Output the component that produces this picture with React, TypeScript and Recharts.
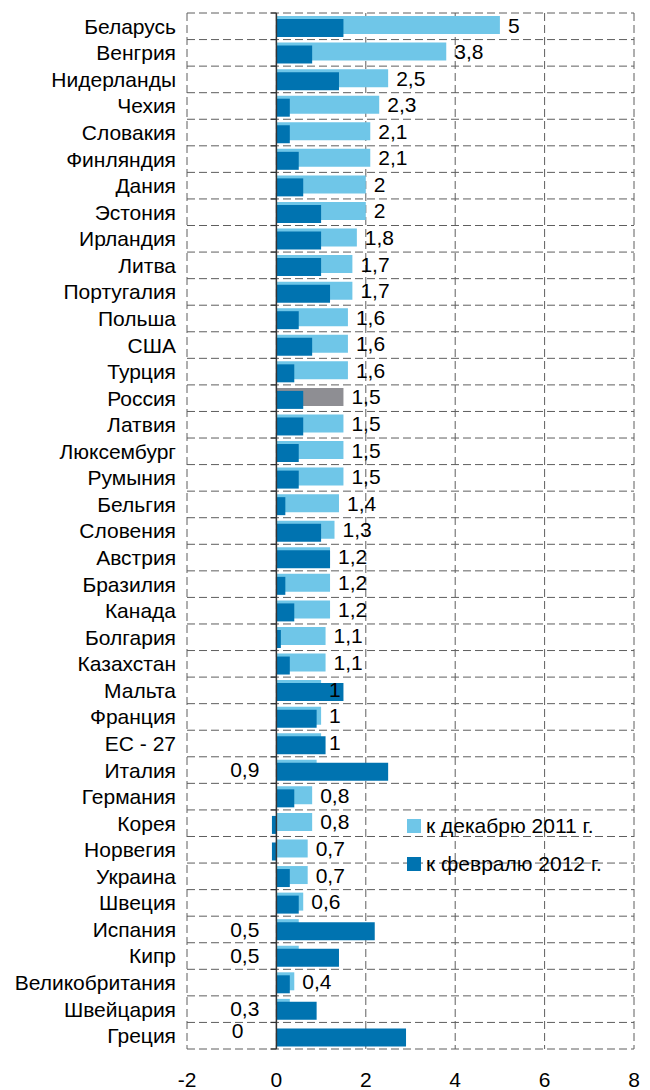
import React from 'react';
import { BarChart, Bar, XAxis, YAxis, CartesianGrid, ReferenceLine, LabelList, Cell } from 'recharts';

const countries = [
  'Беларусь', 'Венгрия', 'Нидерланды', 'Чехия', 'Словакия', 'Финляндия', 'Дания', 'Эстония',
  'Ирландия', 'Литва', 'Португалия', 'Польша', 'США', 'Турция', 'Россия', 'Латвия',
  'Люксембург', 'Румыния', 'Бельгия', 'Словения', 'Австрия', 'Бразилия', 'Канада', 'Болгария',
  'Казахстан', 'Мальта', 'Франция', 'ЕС - 27', 'Италия', 'Германия', 'Корея', 'Норвегия',
  'Украина', 'Швеция', 'Испания', 'Кипр', 'Великобритания', 'Швейцария', 'Греция',
];

// к декабрю 2011 г.
const dec2011 = [
  5, 3.8, 2.5, 2.3, 2.1, 2.1, 2, 2,
  1.8, 1.7, 1.7, 1.6, 1.6, 1.6, 1.5, 1.5,
  1.5, 1.5, 1.4, 1.3, 1.2, 1.2, 1.2, 1.1,
  1.1, 1, 1, 1, 0.9, 0.8, 0.8, 0.7,
  0.7, 0.6, 0.5, 0.5, 0.4, 0.3, 0,
];

// к февралю 2012 г.
const feb2012 = [
  1.5, 0.8, 1.4, 0.3, 0.3, 0.5, 0.6, 1.0,
  1.0, 1.0, 1.2, 0.5, 0.8, 0.4, 0.6, 0.6,
  0.5, 0.5, 0.2, 1.0, 1.2, 0.2, 0.4, 0.1,
  0.3, 1.5, 0.9, 1.1, 2.5, 0.4, -0.1, -0.1,
  0.3, 0.5, 2.2, 1.4, 0.3, 0.9, 2.9,
];

const highlighted = ['Россия'];
const xTicks = [-2, 0, 2, 4, 6, 8];

const LIGHT = '#6fc6e8';
const DARK = '#0073b0';
const GREY = '#8e8e93';
const GRID = '#5e5e5e';
const FONT = '"Liberation Sans", Arial, sans-serif';
const FS = 21;

const data = countries.map((name, i) => ({ name, dec: dec2011[i], feb: feb2012[i] }));

const fmt = (v: number) => String(v).replace('.', ',');

// label goes to the left of the axis when the february bar would cover it
const isMoved = (i: number) => feb2012[i] > dec2011[i] * 1.8;

const labelText = (x: number, y: number, anchor: 'start' | 'end', v: number) => (
  <text x={x} y={y} textAnchor={anchor} dominantBaseline="central" fill="#000" fontSize={FS} fontFamily={FONT}>
    {fmt(v)}
  </text>
);

const ValueLabel = (props: any) => {
  const { x, y, width, height, value, index } = props;
  const cy = y + height / 2;
  if (dec2011[index] === 0) return null;
  if (isMoved(index)) return labelText(x - 17, cy + 1, 'end', value);
  return labelText(x + width + 8, cy, 'start', value);
};

// zero-length december bars draw nothing, so their label hangs off the february bar
const ZeroLabel = (props: any) => {
  const { x, y, height, index } = props;
  if (dec2011[index] !== 0) return null;
  return labelText(x - 33, y + height / 2 - 7, 'end', dec2011[index]);
};

const rowLines = ({ offset }: any) =>
  countries.map((_, i) => offset.top + (i * offset.height) / countries.length).concat(offset.top + offset.height);

// solid zero axis with short ticks between the rows
const ZeroAxis = (props: any) => {
  const { x1, y1, y2 } = props;
  const n = countries.length;
  return (
    <g>
      {Array.from({ length: n + 1 }, (_, i) => {
        const y = y1 + ((y2 - y1) * i) / n;
        return <line key={i} x1={x1 - 6} x2={x1} y1={y} y2={y} stroke="#333" strokeWidth={1.2} />;
      })}
      <line x1={x1} x2={x1} y1={y1} y2={y2} stroke="#333" strokeWidth={1.5} />
    </g>
  );
};

const legendItems = [
  { label: 'к декабрю 2011 г.', color: LIGHT },
  { label: 'к февралю 2012 г.', color: DARK },
];

export default function App() {
  return (
    <div style={{ position: 'relative', width: 642, height: 1082 }}>
      <BarChart
        width={642}
        height={1082}
        data={data}
        layout="vertical"
        margin={{ top: 5, right: 16, bottom: 0, left: 0 }}
        barGap={-15}
      >
        <CartesianGrid stroke={GRID} strokeDasharray="8 4" horizontalCoordinatesGenerator={rowLines} />
        <XAxis
          type="number"
          domain={[-2, 8]}
          ticks={xTicks}
          axisLine={false}
          tickLine={false}
          height={41}
          tickMargin={17}
          tick={{ fill: '#000', fontSize: FS, fontFamily: FONT }}
        />
        <YAxis
          type="category"
          dataKey="name"
          width={179}
          axisLine={false}
          tickLine={false}
          tickMargin={5}
          interval={0}
          tick={{ fill: '#000', fontSize: FS, fontFamily: FONT }}
        />
        <Bar dataKey="dec" barSize={18} fill={LIGHT} isAnimationActive={false}>
          {data.map((d) => (
            <Cell key={d.name} fill={highlighted.includes(d.name) ? GREY : LIGHT} />
          ))}
          <LabelList dataKey="dec" content={ValueLabel} />
        </Bar>
        <Bar dataKey="feb" barSize={18} fill={DARK} isAnimationActive={false}>
          <LabelList dataKey="feb" content={ZeroLabel} />
        </Bar>
        <ReferenceLine x={0} stroke="#333" shape={ZeroAxis} />
      </BarChart>
      <div style={{ position: 'absolute', left: 399, top: 799, fontFamily: FONT, fontSize: FS, color: '#000' }}>
        {legendItems.map((it) => (
          <div key={it.label} style={{ display: 'flex', alignItems: 'center', height: 38 }}>
            <span style={{ width: 14, height: 14, background: it.color, marginRight: 5, display: 'inline-block' }} />
            <span>{it.label}</span>
          </div>
        ))}
      </div>
    </div>
  );
}
